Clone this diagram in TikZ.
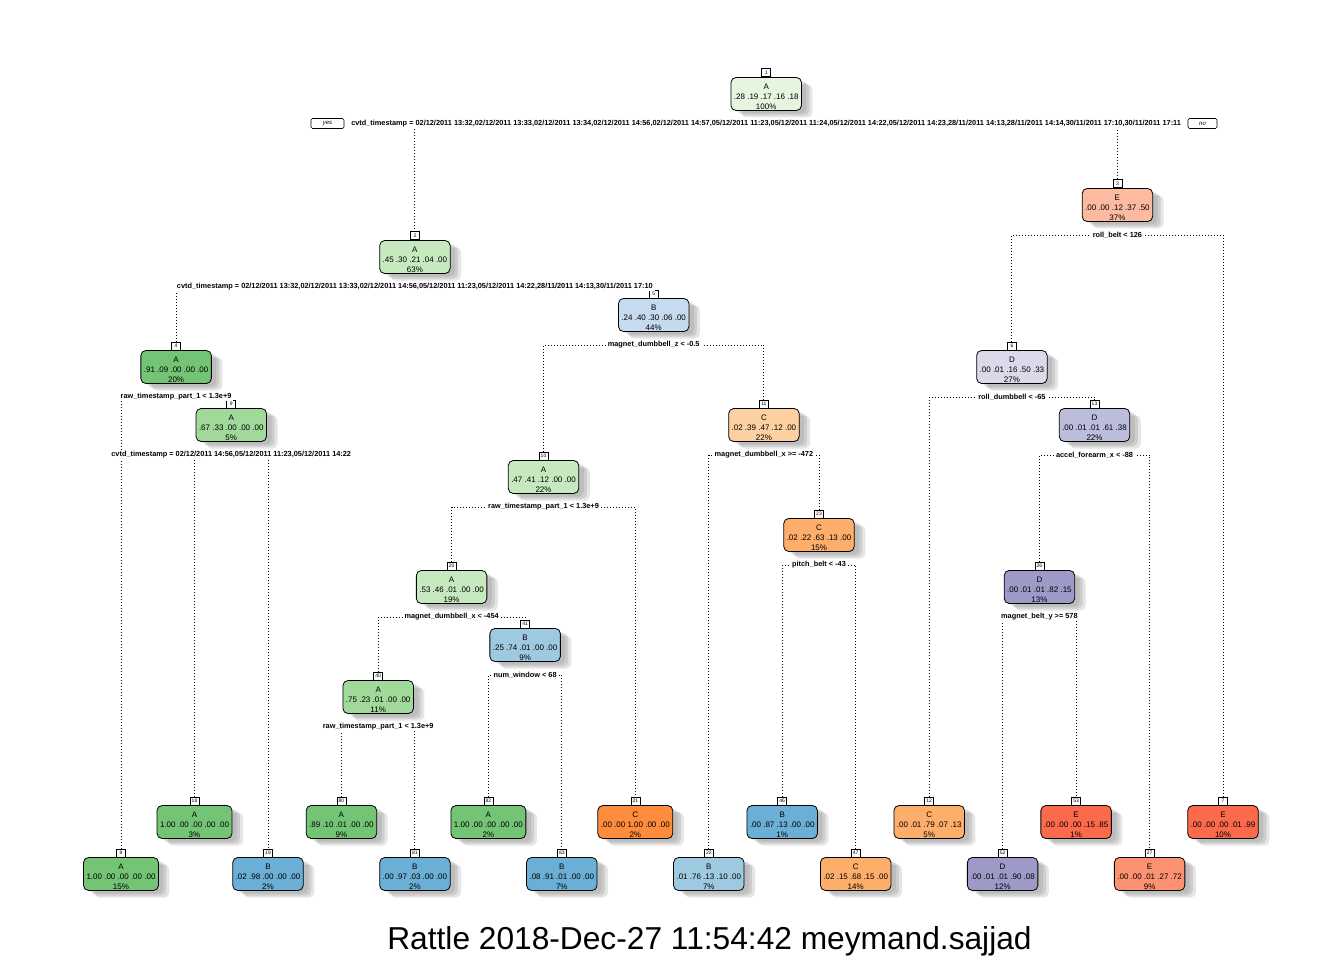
\documentclass[tikz,border=0pt]{standalone}
\usepackage{fontspec}
\setmainfont{Liberation Sans}
\usetikzlibrary{shadows,calc}

% fill colours by class and purity
\definecolor{gA1}{HTML}{E5F5E0}
\definecolor{gA2}{HTML}{C7E9C0}
\definecolor{gA3}{HTML}{A1D99B}
\definecolor{gA4}{HTML}{74C476}
\definecolor{bB2}{HTML}{C6DBEF}
\definecolor{bB3}{HTML}{9ECAE1}
\definecolor{bB4}{HTML}{6BAED6}
\definecolor{oC2}{HTML}{FDD0A2}
\definecolor{oC3}{HTML}{FDAE6B}
\definecolor{oC4}{HTML}{FD8D3C}
\definecolor{pD2}{HTML}{DADAEB}
\definecolor{pD3}{HTML}{BCBDDC}
\definecolor{pD4}{HTML}{9E9AC8}
\definecolor{rE2}{HTML}{FCBBA1}
\definecolor{rE3}{HTML}{FC9272}
\definecolor{rE4}{HTML}{FB6A4A}

\tikzset{
  softshadow/.style={
    general shadow={fill=black, opacity=0.08, shadow xshift=5pt, shadow yshift=-3pt},
    general shadow={fill=black, opacity=0.10, shadow xshift=8pt, shadow yshift=-5pt},
    general shadow={fill=black, opacity=0.10, shadow xshift=11pt, shadow yshift=-7pt}},
  tbox/.style={softshadow, draw=black, line width=0.8pt, rounded corners=5pt,
    align=center, inner xsep=3pt, inner ysep=0pt, minimum height=33pt,
    font=\fontsize{8}{10}\selectfont},
  numbox/.style={draw=black, fill=white, line width=0.6pt, inner xsep=1.5pt,
    inner ysep=0.8pt, minimum width=9pt, minimum height=8pt,
    font=\fontsize{5}{5}\selectfont},
  splitlab/.style={fill=white, inner xsep=2pt, inner ysep=1pt,
    font=\bfseries\fontsize{7.35}{8}\selectfont},
  tdot/.style={line width=0.9pt, dash pattern=on 0.9pt off 2.1pt},
  yesno/.style={draw=black, fill=white, line width=0.6pt, rounded corners=1.5pt,
    minimum height=10pt, inner sep=0pt, font=\itshape\fontsize{6}{6}\selectfont},
}

% name, x, y, colour, number, class, probabilities, percent
\newcommand\treenode[8]{%
  \node[tbox, fill=#4] (#1) at (#2,#3) {\rule{0pt}{11pt}#6\\#7\\#8\%};
  \node[numbox, anchor=south] (#1n) at (#1.north) {#5};}

\begin{document}
\begin{tikzpicture}[x=1pt, y=-1pt]
\fill[white] (0,0) rectangle (1344,960);
\useasboundingbox (0,0) rectangle (1344,960);

% internal nodes
\treenode{t1}{766.2}{94}{gA1}{1}{A}{.28 .19 .17 .16 .18}{100}
\treenode{t2}{414.9}{257}{gA2}{2}{A}{.45 .30 .21 .04 .00}{63}
\treenode{t3}{1117.4}{205}{rE2}{3}{E}{.00 .00 .12 .37 .50}{37}
\treenode{t4}{176.1}{367}{gA4}{4}{A}{.91 .09 .00 .00 .00}{20}
\treenode{t5}{653.7}{315}{bB2}{5}{B}{.24 .40 .30 .06 .00}{44}
\treenode{t9}{231.25}{425}{gA3}{9}{A}{.67 .33 .00 .00 .00}{5}
\treenode{t6}{1011.9}{367}{pD2}{6}{D}{.00 .01 .16 .50 .33}{27}
\treenode{t13}{1094.5}{425}{pD3}{13}{D}{.00 .01 .01 .61 .38}{22}
\treenode{t11}{763.9}{425}{oC2}{11}{C}{.02 .39 .47 .12 .00}{22}
\treenode{t10}{543.5}{477}{gA2}{10}{A}{.47 .41 .12 .00 .00}{22}
\treenode{t23}{819}{535}{oC3}{23}{C}{.02 .22 .63 .13 .00}{15}
\treenode{t20}{451.6}{587}{gA2}{20}{A}{.53 .46 .01 .00 .00}{19}
\treenode{t26}{1039.4}{587}{pD4}{26}{D}{.00 .01 .01 .82 .15}{13}
\treenode{t41}{525.1}{645}{bB3}{41}{B}{.25 .74 .01 .00 .00}{9}
\treenode{t40}{378.2}{697}{gA3}{40}{A}{.75 .23 .01 .00 .00}{11}

% leaves, upper row
\treenode{t18}{194.5}{822}{gA4}{18}{A}{1.00 .00 .00 .00 .00}{3}
\treenode{t80}{341.4}{822}{gA4}{80}{A}{.89 .10 .01 .00 .00}{9}
\treenode{t82}{488.4}{822}{gA4}{82}{A}{1.00 .00 .00 .00 .00}{2}
\treenode{t21}{635.3}{822}{oC4}{21}{C}{.00 .00 1.00 .00 .00}{2}
\treenode{t46}{782.2}{822}{bB4}{46}{B}{.00 .87 .13 .00 .00}{1}
\treenode{t12}{929.2}{822}{oC3}{12}{C}{.00 .01 .79 .07 .13}{5}
\treenode{t53}{1076.1}{822}{rE4}{53}{E}{.00 .00 .00 .15 .85}{1}
\treenode{t7}{1223}{822}{rE4}{7}{E}{.00 .00 .00 .01 .99}{10}
% leaves, lower row
\treenode{t8}{121}{874}{gA4}{8}{A}{1.00 .00 .00 .00 .00}{15}
\treenode{t19}{268}{874}{bB4}{19}{B}{.02 .98 .00 .00 .00}{2}
\treenode{t81}{414.9}{874}{bB4}{81}{B}{.00 .97 .03 .00 .00}{2}
\treenode{t83}{561.8}{874}{bB4}{83}{B}{.08 .91 .01 .00 .00}{7}
\treenode{t22}{708.8}{874}{bB3}{22}{B}{.01 .76 .13 .10 .00}{7}
\treenode{t47}{855.7}{874}{oC3}{47}{C}{.02 .15 .68 .15 .00}{14}
\treenode{t52}{1002.6}{874}{pD4}{52}{D}{.00 .01 .01 .90 .08}{12}
\treenode{t27}{1149.6}{874}{rE3}{27}{E}{.00 .00 .01 .27 .72}{9}

% split label anchors, just below each internal node
\foreach \p in {1,2,3,4,5,6,9,10,11,13,20,23,26,40,41}
  \path (t\p.center) ++(0,30) coordinate (s\p);

% branches
\draw[tdot] (t2n.north) |- (s1) -| (t3n.north);
\draw[tdot] (t4n.north) |- (s2) -| (t5n.north);
\draw[tdot] (t6n.north) |- (s3) -| (t7n.north);
\draw[tdot] (t8n.north) |- (s4) -| (t9n.north);
\draw[tdot] (t10n.north) |- (s5) -| (t11n.north);
\draw[tdot] (t12n.north) |- (s6) -| (t13n.north);
\draw[tdot] (t18n.north) |- (s9) -| (t19n.north);
\draw[tdot] (t20n.north) |- (s10) -| (t21n.north);
\draw[tdot] (t22n.north) |- (s11) -| (t23n.north);
\draw[tdot] (t26n.north) |- (s13) -| (t27n.north);
\draw[tdot] (t40n.north) |- (s20) -| (t41n.north);
\draw[tdot] (t46n.north) |- (s23) -| (t47n.north);
\draw[tdot] (t52n.north) |- (s26) -| (t53n.north);
\draw[tdot] (t80n.north) |- (s40) -| (t81n.north);
\draw[tdot] (t82n.north) |- (s41) -| (t83n.north);

% split labels
\node[splitlab] (s1l) at (s1) {cvtd\_timestamp = 02/12/2011 13:32,02/12/2011 13:33,02/12/2011 13:34,02/12/2011 14:56,02/12/2011 14:57,05/12/2011 11:23,05/12/2011 11:24,05/12/2011 14:22,05/12/2011 14:23,28/11/2011 14:13,28/11/2011 14:14,30/11/2011 17:10,30/11/2011 17:11};
\node[splitlab] (s2l) at (s2) {cvtd\_timestamp = 02/12/2011 13:32,02/12/2011 13:33,02/12/2011 14:56,05/12/2011 11:23,05/12/2011 14:22,28/11/2011 14:13,30/11/2011 17:10};
\node[splitlab] (s3l) at (s3) {roll\_belt < 126};
\node[splitlab] (s4l) at (s4) {raw\_timestamp\_part\_1 < 1.3e+9};
\node[splitlab] (s5l) at (s5) {magnet\_dumbbell\_z < -0.5};
\node[splitlab] (s6l) at (s6) {roll\_dumbbell < -65};
\node[splitlab] (s9l) at (s9) {cvtd\_timestamp = 02/12/2011 14:56,05/12/2011 11:23,05/12/2011 14:22};
\node[splitlab] (s10l) at (s10) {raw\_timestamp\_part\_1 < 1.3e+9};
\node[splitlab] (s11l) at (s11) {magnet\_dumbbell\_x >= -472};
\node[splitlab] (s13l) at (s13) {accel\_forearm\_x < -88};
\node[splitlab] (s20l) at (s20) {magnet\_dumbbell\_x < -454};
\node[splitlab] (s23l) at (s23) {pitch\_belt < -43};
\node[splitlab] (s26l) at (s26) {magnet\_belt\_y >= 578};
\node[splitlab] (s40l) at (s40) {raw\_timestamp\_part\_1 < 1.3e+9};
\node[splitlab] (s41l) at (s41) {num\_window < 68};

% yes / no tags of the first split
\node[yesno, minimum width=33pt] (yes) at (327.5,123.5) {yes};
\node[yesno, minimum width=29pt] (no) at (1202.5,123.5) {no};

% caption
\node[anchor=base, inner sep=0pt, font=\fontsize{31.7}{36}\selectfont] (title) at (709.5,949) {Rattle 2018-Dec-27 11:54:42 meymand.sajjad};
\end{tikzpicture}
\end{document}
